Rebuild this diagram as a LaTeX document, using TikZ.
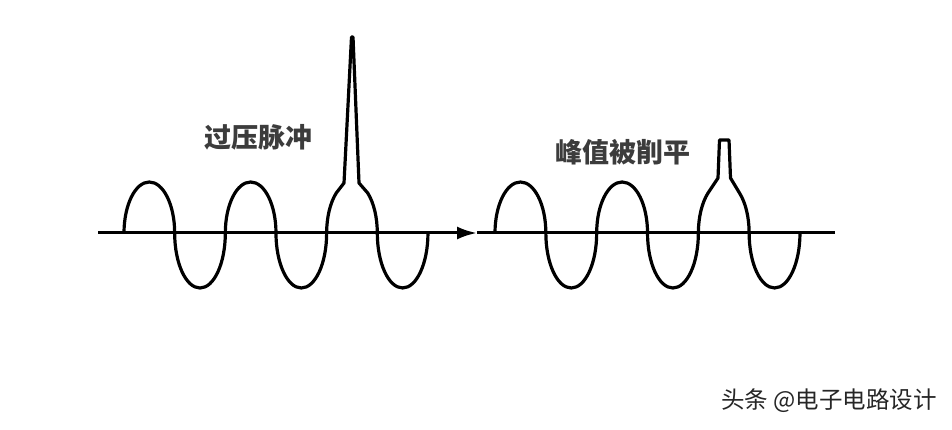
\documentclass[tikz,border=0pt]{standalone}
\usepackage{fontspec}
\newfontfamily\cjk{Noto Sans CJK SC}
\usetikzlibrary{arrows.meta}
\definecolor{labelgray}{HTML}{3C3C3C}
\tikzset{
	wave/.style={line width=3.2pt, line join=round},
	axis line/.style={line width=3pt},
	caption node/.style={inner sep=0, text=labelgray, font=\cjk\bfseries\fontsize{27}{27}\selectfont},
	mark node/.style={inner sep=0, text=black!85, font=\cjk\fontsize{23.5}{23.5}\selectfont},
	% half ellipses above and below the axis
	hump up/.style={start angle=180, end angle=360, y radius=51},
	hump down/.style={start angle=180, end angle=0, y radius=55},
	left wave/.style={x radius=25.33},
	right wave/.style={x radius=25.42},
}

\begin{document}
\begin{tikzpicture}[x=1pt, y=-1pt]
  \useasboundingbox (0,0) rectangle (952,430);

  % time axis, arrow in the middle
  \coordinate (a0) at (98,233);
  \coordinate (amid) at (477,233);
  \coordinate (a1) at (835,233);
  \draw[axis line, -{Latex[length=20pt, width=13pt]}] (a0) -- (amid);
  \draw[axis line] (amid) -- (a1);

  % left: sine with overvoltage spike
  \coordinate (l0) at (124,233);
  \draw[wave] (l0)
    arc[left wave, hump up] arc[left wave, hump down]
    arc[left wave, hump up] arc[left wave, hump down]
    arc[left wave, start angle=180, end angle=231.6, y radius=51]
    -- (344,183) -- (351.5,37) -- (353,37) -- (359,183) -- (367.7,193)
    arc[left wave, start angle=308.4, end angle=360, y radius=51]
    arc[left wave, hump down];

  % right: spike clipped flat
  \coordinate (r0) at (495,233);
  \draw[wave] (r0)
    arc[right wave, hump up] arc[right wave, hump down]
    arc[right wave, hump up] arc[right wave, hump down]
    arc[right wave, start angle=180, end angle=231.6, y radius=51]
    -- (718,178) -- (719.5,140) -- (729,140) -- (730.5,178) -- (739.5,193)
    arc[right wave, start angle=308.4, end angle=360, y radius=51]
    arc[right wave, hump down];

  \node[caption node] (spike) at (258,137) {过压脉冲};
  \node[caption node] (clip) at (623,152) {峰值被削平};
  \node[mark node] (source) at (829,401) {头条 @电子电路设计};
\end{tikzpicture}
\end{document}
